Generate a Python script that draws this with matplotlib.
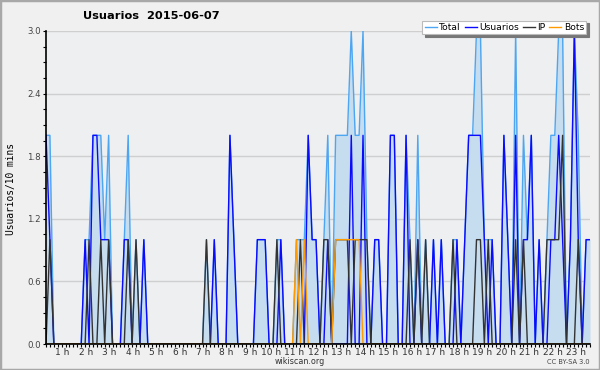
import numpy as np
import matplotlib
matplotlib.use("Agg")
import matplotlib.pyplot as plt
from matplotlib.patches import Rectangle

# values per 10 minutes, one row per hour
total = [2, 2, 0, 0, 0, 0,
         0, 0, 0, 0, 1, 1,
         2, 2, 2, 1, 2, 0,
         0, 0, 1, 2, 0, 1,
         0, 1, 0, 0, 0, 0,
         0, 0, 0, 0, 0, 0,
         0, 0, 0, 0, 0, 1,
         0, 1, 0, 0, 0, 2,
         1, 0, 0, 0, 0, 0,
         1, 1, 1, 0, 0, 1,
         1, 0, 0, 0, 1, 1,
         1, 2, 1, 1, 0, 1,
         2, 0, 2, 2, 2, 2,
         3, 2, 2, 3, 1, 0,
         1, 1, 0, 0, 2, 2,
         0, 0, 2, 1, 0, 2,
         0, 1, 0, 1, 0, 1,
         0, 0, 1, 1, 0, 1,
         2, 2, 3, 3, 1, 1,
         1, 0, 0, 2, 1, 0,
         3, 0, 2, 1, 2, 0,
         1, 0, 1, 2, 2, 3,
         3, 0, 1, 3, 2, 0,
         1, 1]
usuarios = [2, 1, 0, 0, 0, 0,
            0, 0, 0, 0, 1, 0,
            2, 2, 1, 1, 1, 0,
            0, 0, 1, 1, 0, 0,
            0, 1, 0, 0, 0, 0,
            0, 0, 0, 0, 0, 0,
            0, 0, 0, 0, 0, 0,
            0, 1, 0, 0, 0, 2,
            1, 0, 0, 0, 0, 0,
            1, 1, 1, 0, 0, 0,
            1, 0, 0, 0, 0, 0,
            0, 2, 1, 1, 0, 0,
            1, 0, 0, 0, 0, 0,
            2, 0, 0, 2, 0, 0,
            1, 1, 0, 0, 2, 2,
            0, 0, 2, 0, 0, 1,
            0, 0, 0, 1, 0, 1,
            0, 0, 0, 1, 0, 1,
            2, 2, 2, 2, 1, 0,
            1, 0, 0, 2, 1, 0,
            2, 0, 1, 1, 2, 0,
            1, 0, 0, 1, 1, 2,
            1, 0, 1, 3, 1, 0,
            1, 1]
ip = [0, 1, 0, 0, 0, 0,
      0, 0, 0, 0, 0, 1,
      0, 0, 1, 0, 1, 0,
      0, 0, 0, 1, 0, 1,
      0, 0, 0, 0, 0, 0,
      0, 0, 0, 0, 0, 0,
      0, 0, 0, 0, 0, 1,
      0, 0, 0, 0, 0, 0,
      0, 0, 0, 0, 0, 0,
      0, 0, 0, 0, 0, 1,
      0, 0, 0, 0, 0, 1,
      0, 0, 0, 0, 0, 1,
      1, 0, 1, 1, 1, 1,
      0, 1, 1, 1, 1, 0,
      0, 0, 0, 0, 0, 0,
      0, 0, 0, 1, 0, 1,
      0, 1, 0, 0, 0, 0,
      0, 0, 1, 0, 0, 0,
      0, 0, 1, 1, 0, 1,
      0, 0, 0, 0, 0, 0,
      1, 0, 1, 0, 0, 0,
      0, 0, 1, 1, 1, 1,
      2, 0, 0, 0, 1, 0,
      0, 0]
bots = [0] * 64 + [1, 0, 1, 0, 0, 0, 0, 0, 0, 0, 1, 1, 1, 1, 1, 1, 1] + [0] * 59

hour_labels = ["%d h" % h for h in range(1, 24)]

x = np.arange(len(total))

fig = plt.figure(figsize=(6, 3.7), dpi=100, facecolor="#f0f0f0")
fig.patches.append(Rectangle((0, 0), 1, 1, transform=fig.transFigure,
                             fill=False, edgecolor="#a8a8a8", linewidth=2.5))
ax = fig.add_axes([46 / 600, 26 / 370, 544 / 600, 313 / 370])
ax.set_facecolor("#eeeff0")

ax.fill_between(x, total, color="#c6dcef", linewidth=0)
ax.plot(x, total, color="#4da6f2", lw=1, label="Total")
ax.plot(x, usuarios, color="#0a0aff", lw=1, label="Usuarios")
ax.plot(x, ip, color="#333333", lw=1, label="IP")
ax.plot(x, bots, color="#ff9a00", lw=1, label="Bots")

ax.set_xlim(0, len(total) - 1)
ax.set_ylim(0, 3)
ax.set_yticks(np.arange(0, 3.01, 0.6))
ax.set_yticklabels(["%.1f" % v for v in np.arange(0, 3.01, 0.6)])
ax.set_yticks(np.arange(0, 3.01, 0.15), minor=True)
ax.yaxis.grid(True, color="#cfcfcf", lw=1)
ax.set_axisbelow(True)

ax.set_xticks(np.arange(6, len(total), 6))
ax.set_xticklabels(hour_labels, ha="right")
ax.set_xticks(x, minor=True)

ax.tick_params(axis="both", which="both", direction="out", length=2.5, width=0.8, color="black")
ax.tick_params(axis="x", labelsize=6.5, pad=0.5, labelcolor="#333333")
ax.tick_params(axis="y", labelsize=6.2, pad=1, labelcolor="#444444")
for s in ["top", "right"]:
    ax.spines[s].set_visible(False)
ax.spines["left"].set_linewidth(1.2)
ax.spines["bottom"].set_linewidth(1.2)

fig.text(151 / 600, 1 - 16 / 370, "Usuarios  2015-06-07", ha="center", va="center",
         fontsize=8.2, fontweight="bold")
fig.text(11 / 600, 1 - 189 / 370, "Usuarios/10 mins", rotation=90, ha="center", va="center",
         fontsize=6.9, family="DejaVu Sans Mono")
fig.text(300 / 600, 1 - 362 / 370, "wikiscan.org", ha="center", va="center",
         fontsize=5.8, color="#333333")
fig.text(590 / 600, 1 - 362 / 370, "CC BY-SA 3.0", ha="right", va="center",
         fontsize=4.8, color="#444444")

leg = fig.legend(loc="upper right", bbox_to_anchor=(591 / 600, 1 - 16 / 370), ncol=4,
                 fontsize=6.6, handlelength=1.3, handletextpad=0.3, columnspacing=0.4,
                 borderpad=0.25, fancybox=False, edgecolor="#bbbbbb",
                 shadow={"color": "#777777", "alpha": 1})
leg.get_frame().set_linewidth(0.8)

fig.savefig("out.png", dpi=100, facecolor=fig.get_facecolor())
